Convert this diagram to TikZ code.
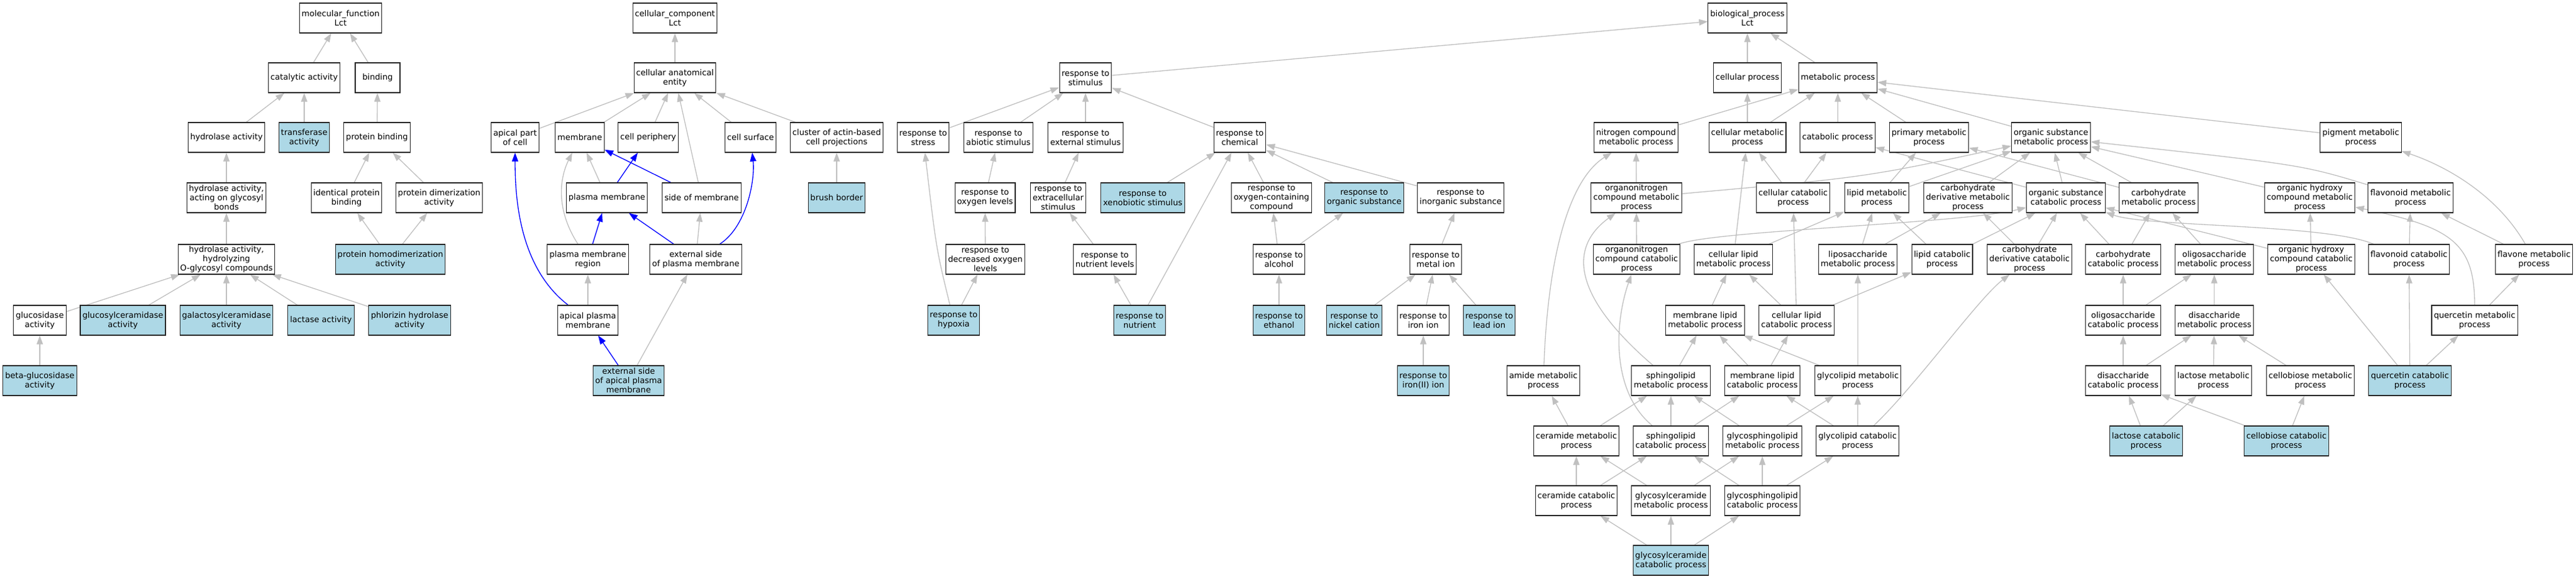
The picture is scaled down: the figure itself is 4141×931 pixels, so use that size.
\documentclass[tikz,border=0pt]{standalone}
\usepackage{fontspec}
\setmainfont{DejaVu Sans}
\usetikzlibrary{arrows.meta,backgrounds}
\definecolor{annotblue}{RGB}{173,216,230}
\definecolor{edgegray}{RGB}{192,192,192}
\tikzset{
  goterm/.style={draw=black!85, line width=1.1pt, fill=white, rectangle, align=center,
    minimum width=72pt, minimum height=48pt, inner xsep=3.5pt, inner ysep=1pt,
    font=\fontsize{13.1}{15}\selectfont},
  annot/.style={goterm, fill=annotblue},
  isa/.style={draw=edgegray, line width=1.33pt, -{Triangle[length=14pt,width=10pt]}},
  partof/.style={isa, draw=blue},
}
\begin{document}
\begin{tikzpicture}[x=1pt,y=-1pt]
\useasboundingbox (0,0) rectangle (4141,931);

\node[goterm] (mf) at (547.5,29) {molecular\_function\\Lct};
\node[goterm] (catact) at (489,125) {catalytic activity};
\node[goterm] (bind) at (607,125) {binding};
\node[goterm] (hydro) at (364,221) {hydrolase activity};
\node[annot] (transf) at (489,221) {transferase\\activity};
\node[goterm] (protbind) at (606,221) {protein binding};
\node[goterm] (glycbond) at (364,318) {hydrolase activity,\\acting on glycosyl\\bonds};
\node[goterm] (identbind) at (557,318) {identical protein\\binding};
\node[goterm] (dimer) at (706,318) {protein dimerization\\activity};
\node[goterm] (oglyc) at (364,417) {hydrolase activity,\\hydrolyzing\\O-glycosyl compounds};
\node[annot] (homodimer) at (627.5,417) {protein homodimerization\\activity};
\node[goterm] (glucosid) at (64,515) {glucosidase\\activity};
\node[annot] (glucer) at (197.5,515) {glucosylceramidase\\activity};
\node[annot] (galcer) at (364,515) {galactosylceramidase\\activity};
\node[annot] (lactase) at (516,515) {lactase activity};
\node[annot] (phlor) at (658.5,515) {phlorizin hydrolase\\activity};
\node[annot] (betaglu) at (64,612) {beta-glucosidase\\activity};

\node[goterm] (cc) at (1085,29) {cellular\_component\\Lct};
\node[goterm] (cae) at (1085,125) {cellular anatomical\\entity};
\node[goterm] (apicpart) at (828,221) {apical part\\of cell};
\node[goterm] (memb) at (932,221) {membrane};
\node[goterm] (periph) at (1042,221) {cell periphery};
\node[goterm] (surf) at (1206.5,221) {cell surface};
\node[goterm] (actin) at (1345,221) {cluster of actin-based\\cell projections};
\node[goterm] (plasma) at (975.5,318) {plasma membrane};
\node[goterm] (sidememb) at (1128,318) {side of membrane};
\node[annot] (brush) at (1345,318) {brush border};
\node[goterm] (pmregion) at (945,417) {plasma membrane\\region};
\node[goterm] (extside) at (1118.5,417) {external side\\of plasma membrane};
\node[goterm] (apicpm) at (945,515) {apical plasma\\membrane};
\node[annot] (extapic) at (1010.5,612) {external side\\of apical plasma\\membrane};

\node[goterm] (stim) at (1745,125) {response to\\stimulus};
\node[goterm] (stress) at (1484,221) {response to\\stress};
\node[goterm] (abiotic) at (1605,221) {response to\\abiotic stimulus};
\node[goterm] (external) at (1745,221) {response to\\external stimulus};
\node[goterm] (chem) at (1993,221) {response to\\chemical};
\node[goterm] (oxylev) at (1583.5,318) {response to\\oxygen levels};
\node[goterm] (extracell) at (1701,318) {response to\\extracellular\\stimulus};
\node[annot] (xeno) at (1837,318) {response to\\xenobiotic stimulus};
\node[goterm] (oxycomp) at (2044,318) {response to\\oxygen-containing\\compound};
\node[annot] (organic) at (2193,318) {response to\\organic substance};
\node[goterm] (inorganic) at (2348,318) {response to\\inorganic substance};
\node[goterm] (decoxy) at (1584,417) {response to\\decreased oxygen\\levels};
\node[goterm] (nutlev) at (1776,417) {response to\\nutrient levels};
\node[goterm] (alcohol) at (2056,417) {response to\\alcohol};
\node[goterm] (metal) at (2308,417) {response to\\metal ion};
\node[annot] (hypoxia) at (1533,515) {response to\\hypoxia};
\node[annot] (nutrient) at (1832,515) {response to\\nutrient};
\node[annot] (ethanol) at (2056,515) {response to\\ethanol};
\node[annot] (nickel) at (2177,515) {response to\\nickel cation};
\node[goterm] (iron) at (2288,515) {response to\\iron ion};
\node[annot] (lead) at (2394,515) {response to\\lead ion};
\node[annot] (ironii) at (2288,612) {response to\\iron(II) ion};

\node[goterm] (bp) at (2809,29) {biological\_process\\Lct};
\node[goterm] (cellproc) at (2809,125) {cellular process};
\node[goterm] (metab) at (2954.5,125) {metabolic process};
\node[goterm] (nitro) at (2630,221) {nitrogen compound\\metabolic process};
\node[goterm] (cellmet) at (2809,221) {cellular metabolic\\process};
\node[goterm] (catab) at (2954,221) {catabolic process};
\node[goterm] (primary) at (3101,221) {primary metabolic\\process};
\node[goterm] (orgmet) at (3297,221) {organic substance\\metabolic process};
\node[goterm] (pigment) at (3795,221) {pigment metabolic\\process};
\node[goterm] (onmet) at (2630.5,318) {organonitrogen\\compound metabolic\\process};
\node[goterm] (cellcat) at (2882.5,318) {cellular catabolic\\process};
\node[goterm] (lipmet) at (3017,318) {lipid metabolic\\process};
\node[goterm] (chdmet) at (3163.5,318) {carbohydrate\\derivative metabolic\\process};
\node[goterm] (orgcat) at (3321,318) {organic substance\\catabolic process};
\node[goterm] (chmet) at (3470,318) {carbohydrate\\metabolic process};
\node[goterm] (ohmet) at (3713,318) {organic hydroxy\\compound metabolic\\process};
\node[goterm] (flavmet) at (3875,318) {flavonoid metabolic\\process};
\node[goterm] (oncat) at (2631,417) {organonitrogen\\compound catabolic\\process};
\node[goterm] (celllipmet) at (2786.5,417) {cellular lipid\\metabolic process};
\node[goterm] (liposac) at (2986.5,417) {liposaccharide\\metabolic process};
\node[goterm] (lipcat) at (3122,417) {lipid catabolic\\process};
\node[goterm] (chdcat) at (3262.5,417) {carbohydrate\\derivative catabolic\\process};
\node[goterm] (chcat) at (3413,417) {carbohydrate\\catabolic process};
\node[goterm] (oligomet) at (3559.5,417) {oligosaccharide\\metabolic process};
\node[goterm] (ohcat) at (3715.5,417) {organic hydroxy\\compound catabolic\\process};
\node[goterm] (flavcat) at (3872.5,417) {flavonoid catabolic\\process};
\node[goterm] (flavone) at (4073.5,417) {flavone metabolic\\process};
\node[goterm] (memlipmet) at (2741,515) {membrane lipid\\metabolic process};
\node[goterm] (celllipcat) at (2888,515) {cellular lipid\\catabolic process};
\node[goterm] (oligocat) at (3413,515) {oligosaccharide\\catabolic process};
\node[goterm] (disacmet) at (3559.5,515) {disaccharide\\metabolic process};
\node[goterm] (quermet) at (3978,515) {quercetin metabolic\\process};
\node[goterm] (amide) at (2481,612) {amide metabolic\\process};
\node[goterm] (sphmet) at (2686,612) {sphingolipid\\metabolic process};
\node[goterm] (memlipcat) at (2833,612) {membrane lipid\\catabolic process};
\node[goterm] (glymet) at (2986.5,612) {glycolipid metabolic\\process};
\node[goterm] (disaccat) at (3413,612) {disaccharide\\catabolic process};
\node[goterm] (lacmet) at (3558,612) {lactose metabolic\\process};
\node[goterm] (cellobmet) at (3714,612) {cellobiose metabolic\\process};
\node[annot] (quercat) at (3874,612) {quercetin catabolic\\process};
\node[goterm] (cermet) at (2534,709) {ceramide metabolic\\process};
\node[goterm] (sphcat) at (2686,709) {sphingolipid\\catabolic process};
\node[goterm] (gsphmet) at (2833,709) {glycosphingolipid\\metabolic process};
\node[goterm] (glycat) at (2986,709) {glycolipid catabolic\\process};
\node[annot] (laccat) at (3450,709) {lactose catabolic\\process};
\node[annot] (cellobcat) at (3675.5,709) {cellobiose catabolic\\process};
\node[goterm] (cercat) at (2534,805) {ceramide catabolic\\process};
\node[goterm] (gcermet) at (2686,805) {glycosylceramide\\metabolic process};
\node[goterm] (gsphcat) at (2833,805) {glycosphingolipid\\catabolic process};
\node[annot] (gcercat) at (2686,901) {glycosylceramide\\catabolic process};

\begin{scope}[on background layer]
\draw[isa] (catact) -- (mf);
\draw[isa] (bind) -- (mf);
\draw[isa] (hydro) -- (catact);
\draw[isa] (transf) -- (catact);
\draw[isa] (protbind) -- (bind);
\draw[isa] (glycbond) -- (hydro);
\draw[isa] (identbind) -- (protbind);
\draw[isa] (dimer) -- (protbind);
\draw[isa] (oglyc) -- (glycbond);
\draw[isa] (homodimer) -- (identbind);
\draw[isa] (homodimer) -- (dimer);
\draw[isa] (glucosid) -- (oglyc);
\draw[isa] (glucer) -- (oglyc);
\draw[isa] (galcer) -- (oglyc);
\draw[isa] (lactase) -- (oglyc);
\draw[isa] (phlor) -- (oglyc);
\draw[isa] (betaglu) -- (glucosid);

\draw[isa] (cae) -- (cc);
\draw[isa] (apicpart) -- (cae);
\draw[isa] (memb) -- (cae);
\draw[isa] (periph) -- (cae);
\draw[isa] (sidememb) -- (cae);
\draw[isa] (surf) -- (cae);
\draw[isa] (actin) -- (cae);
\draw[isa] (plasma) -- (memb);
\draw[partof] (plasma) -- (periph);
\draw[partof] (sidememb) -- (memb);
\draw[isa] (pmregion) .. controls (895,340) and (898,290) .. (memb);
\draw[partof] (pmregion) -- (plasma);
\draw[partof] (extside) -- (plasma);
\draw[isa] (extside) -- (sidememb);
\draw[partof] (extside) .. controls (1200,365) and (1214,290) .. (surf);
\draw[isa] (brush) -- (actin);
\draw[partof] (apicpm) .. controls (835,430) and (828,320) .. (apicpart);
\draw[isa] (apicpm) -- (pmregion);
\draw[partof] (extapic) -- (apicpm);
\draw[isa] (extapic) -- (extside);

\draw[isa] (stim) -- (bp);
\draw[isa] (stress) -- (stim);
\draw[isa] (abiotic) -- (stim);
\draw[isa] (external) -- (stim);
\draw[isa] (chem) -- (stim);
\draw[isa] (oxylev) -- (abiotic);
\draw[isa] (extracell) -- (external);
\draw[isa] (xeno) -- (chem);
\draw[isa] (oxycomp) -- (chem);
\draw[isa] (organic) -- (chem);
\draw[isa] (inorganic) -- (chem);
\draw[isa] (decoxy) -- (oxylev);
\draw[isa] (nutlev) -- (extracell);
\draw[isa] (alcohol) -- (oxycomp);
\draw[isa] (alcohol) -- (organic);
\draw[isa] (metal) -- (inorganic);
\draw[isa] (hypoxia) .. controls (1505,400) .. (stress);
\draw[isa] (hypoxia) -- (decoxy);
\draw[isa] (nutrient) -- (nutlev);
\draw[isa] (nutrient) -- (chem);
\draw[isa] (ethanol) -- (alcohol);
\draw[isa] (nickel) -- (metal);
\draw[isa] (iron) -- (metal);
\draw[isa] (lead) -- (metal);
\draw[isa] (ironii) -- (iron);

\draw[isa] (cellproc) -- (bp);
\draw[isa] (metab) -- (bp);
\draw[isa] (nitro) -- (metab);
\draw[isa] (cellmet) -- (cellproc);
\draw[isa] (cellmet) -- (metab);
\draw[isa] (catab) -- (metab);
\draw[isa] (primary) -- (metab);
\draw[isa] (orgmet) -- (metab);
\draw[isa] (pigment) -- (metab);
\draw[isa] (onmet) -- (nitro);
\draw[isa] (onmet) .. controls (3000,285) .. (orgmet);
\draw[isa] (cellcat) -- (cellmet);
\draw[isa] (cellcat) -- (catab);
\draw[isa] (lipmet) -- (primary);
\draw[isa] (lipmet) -- (orgmet);
\draw[isa] (chdmet) -- (orgmet);
\draw[isa] (orgcat) -- (orgmet);
\draw[isa] (orgcat) -- (catab);
\draw[isa] (chmet) -- (orgmet);
\draw[isa] (chmet) -- (primary);
\draw[isa] (ohmet) -- (orgmet);
\draw[isa] (flavmet) .. controls (3700,265) .. (orgmet);
\draw[isa] (oncat) -- (onmet);
\draw[isa] (oncat) .. controls (2760,370) and (3150,360) .. (orgcat);
\draw[isa] (celllipmet) -- (cellmet);
\draw[isa] (celllipmet) -- (lipmet);
\draw[isa] (liposac) -- (lipmet);
\draw[isa] (liposac) -- (chdmet);
\draw[isa] (lipcat) -- (lipmet);
\draw[isa] (lipcat) -- (orgcat);
\draw[isa] (chdcat) -- (chdmet);
\draw[isa] (chdcat) -- (orgcat);
\draw[isa] (chcat) -- (orgcat);
\draw[isa] (chcat) -- (chmet);
\draw[isa] (oligomet) -- (chmet);
\draw[isa] (ohcat) -- (ohmet);
\draw[isa] (ohcat) -- (orgcat);
\draw[isa] (flavcat) -- (flavmet);
\draw[isa] (flavcat) .. controls (3740,360) and (3450,365) .. (orgcat);
\draw[isa] (flavone) -- (flavmet);
\draw[isa] (flavone) .. controls (4015,315) and (3935,268) .. (pigment);
\draw[isa] (memlipmet) -- (celllipmet);
\draw[isa] (celllipcat) -- (celllipmet);
\draw[isa] (celllipcat) -- (cellcat);
\draw[isa] (celllipcat) -- (lipcat);
\draw[isa] (oligocat) -- (chcat);
\draw[isa] (oligocat) -- (oligomet);
\draw[isa] (disacmet) -- (oligomet);
\draw[isa] (quermet) .. controls (3978,390) and (3940,365) .. (ohmet);
\draw[isa] (quermet) -- (flavone);
\draw[isa] (amide) .. controls (2488,420) and (2520,290) .. (nitro);
\draw[isa] (sphmet) -- (memlipmet);
\draw[isa] (sphmet) .. controls (2555,500) and (2505,410) .. (onmet);
\draw[isa] (memlipcat) -- (memlipmet);
\draw[isa] (memlipcat) -- (celllipcat);
\draw[isa] (glymet) -- (memlipmet);
\draw[isa] (glymet) -- (liposac);
\draw[isa] (disaccat) -- (oligocat);
\draw[isa] (disaccat) -- (disacmet);
\draw[isa] (lacmet) -- (disacmet);
\draw[isa] (cellobmet) -- (disacmet);
\draw[isa] (quercat) -- (ohcat);
\draw[isa] (quercat) -- (flavcat);
\draw[isa] (quercat) -- (quermet);
\draw[isa] (cermet) -- (amide);
\draw[isa] (cermet) -- (sphmet);
\draw[isa] (sphcat) -- (sphmet);
\draw[isa] (sphcat) -- (memlipcat);
\draw[isa] (sphcat) .. controls (2590,630) and (2595,520) .. (oncat);
\draw[isa] (gsphmet) -- (sphmet);
\draw[isa] (gsphmet) -- (glymet);
\draw[isa] (glycat) -- (memlipcat);
\draw[isa] (glycat) -- (glymet);
\draw[isa] (glycat) .. controls (3080,620) and (3180,480) .. (chdcat);
\draw[isa] (laccat) -- (disaccat);
\draw[isa] (laccat) -- (lacmet);
\draw[isa] (cellobcat) -- (disaccat);
\draw[isa] (cellobcat) -- (cellobmet);
\draw[isa] (cercat) -- (cermet);
\draw[isa] (cercat) -- (sphcat);
\draw[isa] (gcermet) -- (cermet);
\draw[isa] (gcermet) -- (gsphmet);
\draw[isa] (gsphcat) -- (sphcat);
\draw[isa] (gsphcat) -- (gsphmet);
\draw[isa] (gsphcat) -- (glycat);
\draw[isa] (gcercat) -- (cercat);
\draw[isa] (gcercat) -- (gcermet);
\draw[isa] (gcercat) -- (gsphcat);
\end{scope}
\end{tikzpicture}
\end{document}
